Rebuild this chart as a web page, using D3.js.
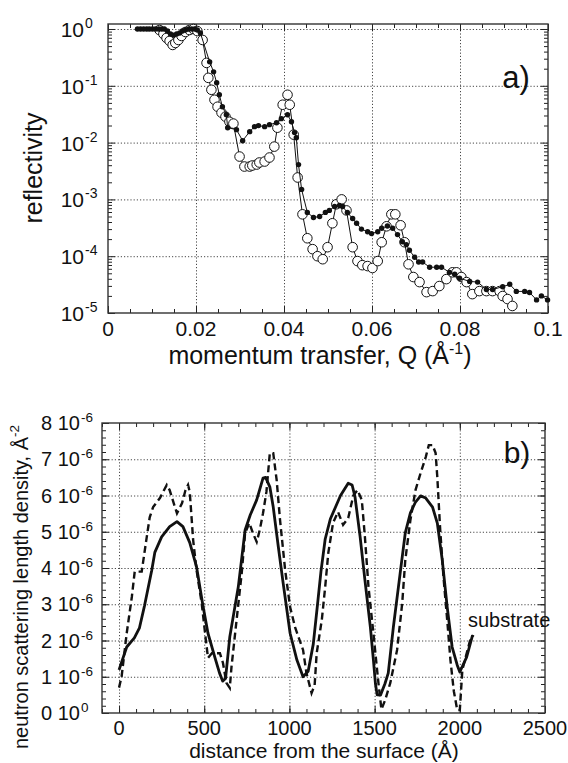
<!DOCTYPE html>
<html>
<head>
<meta charset="utf-8">
<script src="https://cdn.jsdelivr.net/npm/d3@7"></script>
<style>
  body { margin: 0; background: #fff; }
  svg { font-family: "Liberation Sans", Arial, Helvetica, sans-serif; }
  .grid line { stroke: #333; stroke-width: 0.9; stroke-dasharray: 1.2, 2; }
  .grid path { display: none; }
  .ticks path { display: none; }
  .ticks line { stroke: #222; stroke-width: 1; }
</style>
</head>
<body>
<script>
// ---- panel a) reflectivity data, filled dots and open circles ----
const qFilled = [0.0067, 0.0074, 0.0081, 0.0088, 0.0094, 0.0101, 0.0108, 0.0115, 0.0122, 0.0128,
  0.0135, 0.0142, 0.0149, 0.0156, 0.0163, 0.0169, 0.0176, 0.0183, 0.019, 0.0197, 0.0203, 0.021,
  0.0231, 0.024, 0.0247, 0.0253, 0.026, 0.0269, 0.0272, 0.0292, 0.0306, 0.0322, 0.0333, 0.0342,
  0.0356, 0.0367, 0.0383, 0.0394, 0.0408, 0.0417, 0.0424, 0.0428, 0.0433, 0.044, 0.0453, 0.0467,
  0.0481, 0.0494, 0.0503, 0.0515, 0.0526, 0.0533, 0.0544, 0.0556, 0.0565, 0.0576, 0.059, 0.0599,
  0.0613, 0.0622, 0.0635, 0.0647, 0.0658, 0.0669, 0.0678, 0.0685, 0.0697, 0.0706, 0.0715, 0.0731,
  0.0747, 0.0758, 0.0776, 0.0788, 0.0799, 0.0822, 0.084, 0.086, 0.0874, 0.0897, 0.0913, 0.0928,
  0.0947, 0.0958, 0.0974, 0.0985, 0.0999];
const rFilled = [1, 1, 1, 1, 1, 1, 1, 1, 1, 1,
  0.92, 0.82, 0.78, 0.82, 0.85, 0.92, 0.96, 1, 1, 1, 0.96, 0.85,
  0.264, 0.176, 0.113, 0.0695, 0.0428, 0.031, 0.0183, 0.0169, 0.0108, 0.0156, 0.0191, 0.0199,
  0.0191, 0.0207, 0.0224, 0.0264, 0.031, 0.0233, 0.015, 0.0122, 0.0041, 0.0015, 5.9e-4, 4.8e-4,
  5.0e-4, 5.9e-4, 6.4e-4, 7.5e-4, 7.8e-4, 7.5e-4, 5.9e-4, 4.6e-4, 3.8e-4, 3.0e-4, 2.7e-4, 2.5e-4,
  2.7e-4, 3.1e-4, 3.4e-4, 3.1e-4, 2.4e-4, 1.8e-4, 1.6e-4, 1.27e-4, 9.6e-5, 7.9e-5, 7.9e-5, 6.4e-5,
  6.4e-5, 6.4e-5, 5.2e-5, 4.8e-5, 4.1e-5, 3.6e-5, 3.5e-5, 2.6e-5, 2.6e-5, 2.9e-5, 3.2e-5, 2.4e-5,
  2.4e-5, 2.3e-5, 1.7e-5, 2.0e-5, 1.7e-5];

const qOpen = [0.0117, 0.0126, 0.0133, 0.014, 0.0147, 0.0153, 0.016, 0.0167, 0.0176, 0.0185,
  0.0194, 0.0203, 0.0215, 0.0224, 0.0228, 0.0235, 0.0242, 0.0249, 0.0258, 0.0267, 0.0276, 0.0285,
  0.0299, 0.031, 0.0322, 0.0328, 0.0338, 0.0344, 0.0356, 0.0367, 0.0378, 0.0385, 0.0397, 0.0408,
  0.0413, 0.0422, 0.0431, 0.0442, 0.0453, 0.0465, 0.0476, 0.0488, 0.0499, 0.051, 0.0519, 0.0531,
  0.0542, 0.0556, 0.0567, 0.0578, 0.059, 0.0601, 0.0613, 0.0622, 0.0633, 0.0644, 0.0653, 0.0665,
  0.0674, 0.0683, 0.0694, 0.0708, 0.0724, 0.0738, 0.0753, 0.0769, 0.0783, 0.0792, 0.0803, 0.0815,
  0.0828, 0.0844, 0.086, 0.0874, 0.089, 0.0897, 0.0908, 0.0919];
const rOpen = [0.96, 0.817, 0.695, 0.616, 0.524, 0.568, 0.641, 0.754, 0.886, 0.96,
  1, 0.92, 0.641, 0.253, 0.138, 0.0851, 0.0568, 0.0428, 0.0336, 0.0286, 0.0233, 0.0216,
  0.00568, 0.00379, 0.00379, 0.00395, 0.00411, 0.00446, 0.00464, 0.00546, 0.0085, 0.0183, 0.0464, 0.0695,
  0.0464, 0.0138, 0.00243, 5.46e-4, 2.07e-4, 1.33e-4, 1.0e-4, 8.85e-5, 1.44e-4, 3.8e-4, 8.2e-4, 1.0e-3,
  6.4e-4, 1.44e-4, 8.2e-5, 6.95e-5, 6.7e-5, 6.2e-5, 8.2e-5, 1.76e-4, 3.36e-4, 5.46e-4, 5.46e-4, 3.5e-4,
  1.76e-4, 7.2e-5, 4.3e-5, 3.5e-5, 2.33e-5, 2.43e-5, 2.98e-5, 3.95e-5, 5.2e-5, 5.2e-5, 4.3e-5, 3.5e-5,
  2.15e-5, 2.43e-5, 2.43e-5, 2.43e-5, 2.43e-5, 1.99e-5, 1.76e-5, 1.33e-5];

const qTicks = [0, 0.02, 0.04, 0.06, 0.08, 0.1];
const qTickLabels = ["0", "0.02", "0.04", "0.06", "0.08", "0.1"];
const rTicks = [1, 1e-1, 1e-2, 1e-3, 1e-4, 1e-5];
const rTickExp = ["0", "-1", "-2", "-3", "-4", "-5"];

// ---- panel b) scattering length density profiles (units of 1e-6 A^-2) ----
const depthSolid = [0, 45, 90, 120, 150, 192, 210, 250, 297, 340, 375, 415, 455, 492, 522, 562, 590,
  608, 625, 650, 700, 740, 770, 808, 845, 860, 885, 905, 935, 963, 1004, 1044, 1080, 1110, 1140,
  1165, 1185, 1210, 1240, 1300, 1345, 1368, 1385, 1415, 1443, 1475, 1493, 1505, 1515, 1535, 1560,
  1580, 1610, 1650, 1680, 1710, 1740, 1770, 1800, 1840, 1868, 1897, 1926, 1955, 1985, 2000, 2040, 2075];
const sldSolid = [1.19, 1.82, 2.07, 2.35, 2.97, 3.94, 4.43, 4.86, 5.14, 5.28, 5.14, 4.7, 4.03, 2.97, 2.2, 1.54, 1.1,
  0.88, 0.95, 2.1, 3.48, 5.05, 5.46, 5.88, 6.48, 6.5, 6.24, 5.68, 4.58, 3.59, 2.2, 1.46, 1.0, 1.15, 1.9,
  3.0, 3.9, 4.8, 5.35, 6.0, 6.34, 6.29, 5.96, 4.86, 3.67, 2.37, 1.46, 0.8, 0.5, 0.5, 0.8,
  1.1, 2.37, 3.86, 4.97, 5.52, 5.82, 5.99, 5.93, 5.68, 5.24, 4.22, 2.92, 1.82, 1.32, 1.13, 1.54, 2.15];

const depthDashed = [0, 15, 45, 75, 92, 133, 160, 180, 200, 240, 280, 297, 328, 340, 370, 390, 405, 415,
  435, 455, 485, 505, 522, 545, 592, 610, 630, 650, 660, 690, 720, 740, 765, 785, 808, 826, 845, 865,
  885, 905, 925, 945, 975, 1004, 1033, 1053, 1080, 1100, 1130, 1148, 1160, 1190, 1210, 1228, 1256,
  1285, 1315, 1345, 1375, 1400, 1425, 1443, 1464, 1493, 1510, 1523, 1540, 1562, 1592, 1632, 1662,
  1680, 1710, 1740, 1770, 1800, 1818, 1840, 1858, 1868, 1885, 1904, 1926, 1945, 1965, 1985, 2000,
  2015, 2060, 2080];
const sldDashed = [0.7, 1.0, 2.2, 3.2, 3.9, 3.9, 4.77, 5.4, 5.68, 5.93, 6.29, 6.15, 5.68, 5.51, 5.79, 6.15, 6.29, 6.1,
  4.77, 3.94, 3.03, 2.2, 1.52, 1.65, 1.65, 1.38, 0.83, 0.69, 1.27, 2.57, 3.86, 4.97, 5.24, 4.97, 4.72, 5.05, 5.51, 6.1,
  7.17, 7.17, 6.43, 5.32, 3.94, 2.92, 2.37, 2.1, 1.74, 1.1, 0.55, 0.77, 1.65, 2.57, 3.48, 4.41, 5.24,
  5.55, 5.19, 5.38, 6.0, 6.15, 5.87, 4.86, 3.48, 2.2, 1.4, 0.8, 0.1, 0.36, 0.83, 1.74, 3.03,
  4.22, 5.32, 6.15, 6.62, 7.06, 7.39, 7.39, 7.17, 6.5, 5.05, 3.76, 2.57, 1.46, 0.6, 0.08, 0.08,
  1.19, 2.0, 2.15];

const dTicks = [0, 500, 1000, 1500, 2000, 2500];
const sldTicks = [0, 1, 2, 3, 4, 5, 6, 7, 8];
const sldTickMant = ["0", "1", "2", "3", "4", "5", "6", "7", "8"];
const sldTickExp = ["0", "-6", "-6", "-6", "-6", "-6", "-6", "-6", "-6"];

const W = 568, H = 763;
const ink = "#111";
const svg = d3.select("body").append("svg").attr("width", W).attr("height", H);

// ================= panel a =================
const xA = d3.scaleLinear().domain([0, 0.1]).range([108, 548]);
const yA = d3.scaleLog().domain([1e-5, Math.pow(10, 0.088)]).range([313, 24]);
const panelA = svg.append("g");

panelA.append("g").attr("class", "grid")
  .attr("transform", "translate(0,313)")
  .call(d3.axisBottom(xA).tickValues(qTicks.slice(1, -1)).tickFormat("").tickSize(-(313 - 24)));
panelA.append("g").attr("class", "grid")
  .attr("transform", "translate(108,0)")
  .call(d3.axisLeft(yA).tickValues(rTicks.slice(0, -1)).tickFormat("").tickSize(-(548 - 108)));

// ticks inward on all four sides
const qMinor = d3.range(0, 0.1001, 0.005);
const rMinor = [];
for (let e = -5; e < 0; e++) for (let m = 2; m <= 9; m++) rMinor.push(m * Math.pow(10, e));
[[313, d3.axisBottom], [24, d3.axisTop]].forEach(([y, ax]) => {
  panelA.append("g").attr("class", "ticks").attr("transform", `translate(0,${y})`)
    .call(ax(xA).tickValues(qMinor).tickFormat("").tickSize(-4).tickSizeOuter(0));
  panelA.append("g").attr("class", "ticks").attr("transform", `translate(0,${y})`)
    .call(ax(xA).tickValues(qTicks).tickFormat("").tickSize(-7).tickSizeOuter(0));
});
[[108, d3.axisLeft], [548, d3.axisRight]].forEach(([x, ax]) => {
  panelA.append("g").attr("class", "ticks").attr("transform", `translate(${x},0)`)
    .call(ax(yA).tickValues(rMinor).tickFormat("").tickSize(-4).tickSizeOuter(0));
  panelA.append("g").attr("class", "ticks").attr("transform", `translate(${x},0)`)
    .call(ax(yA).tickValues(rTicks).tickFormat("").tickSize(-7).tickSizeOuter(0));
});

panelA.append("rect").attr("x", 108).attr("y", 24).attr("width", 440).attr("height", 289)
  .attr("fill", "none").attr("stroke", "#333").attr("stroke-width", 1.4);

const openPts = qOpen.map((q, i) => ({ q: q, r: rOpen[i] }));
const filledPts = qFilled.map((q, i) => ({ q: q, r: rFilled[i] }));
const lineA = d3.line().x((d) => xA(d.q)).y((d) => yA(d.r));

panelA.append("path").attr("d", lineA(openPts))
  .attr("fill", "none").attr("stroke", ink).attr("stroke-width", 1);
panelA.selectAll("circle.open").data(openPts).join("circle")
  .attr("class", "open")
  .attr("cx", (d) => xA(d.q)).attr("cy", (d) => yA(d.r)).attr("r", 4.8)
  .attr("fill", "#fff").attr("stroke", ink).attr("stroke-width", 1);
panelA.append("path").attr("d", lineA(filledPts))
  .attr("fill", "none").attr("stroke", ink).attr("stroke-width", 1);
panelA.selectAll("circle.filled").data(filledPts).join("circle")
  .attr("class", "filled")
  .attr("cx", (d) => xA(d.q)).attr("cy", (d) => yA(d.r)).attr("r", 2.7)
  .attr("fill", ink);

// tick labels
qTicks.forEach((q, i) => {
  panelA.append("text").attr("x", xA(q)).attr("y", 336)
    .attr("text-anchor", "middle").attr("font-size", 21).attr("fill", ink)
    .text(qTickLabels[i]);
});
rTicks.forEach((r, i) => {
  panelA.append("text").attr("x", 84).attr("y", yA(r) + 8)
    .attr("text-anchor", "end").attr("font-size", 21).attr("fill", ink).text("10");
  panelA.append("text").attr("x", 85).attr("y", yA(r) - 1)
    .attr("font-size", 14).attr("fill", ink).text(rTickExp[i]);
});

panelA.append("text")
  .attr("transform", "translate(42,168) rotate(-90)")
  .attr("text-anchor", "middle").attr("font-size", 25).attr("fill", ink)
  .text("reflectivity");

const xTitleA = panelA.append("text").attr("x", 320).attr("y", 364)
  .attr("text-anchor", "middle").attr("font-size", 25).attr("fill", ink);
xTitleA.append("tspan").text("momentum transfer, Q (Å");
xTitleA.append("tspan").attr("dy", -10).attr("font-size", 16).text("-1");
xTitleA.append("tspan").attr("dy", 10).text(")");

panelA.append("text").attr("x", 516).attr("y", 88)
  .attr("text-anchor", "middle").attr("font-size", 31).attr("fill", ink).text("a)");

// ================= panel b =================
const xB = d3.scaleLinear().domain([-100, 2500]).range([102, 545]);
const yB = d3.scaleLinear().domain([0, 8]).range([713, 423]);
const panelB = svg.append("g");

panelB.append("g").attr("class", "grid")
  .attr("transform", "translate(0,713)")
  .call(d3.axisBottom(xB).tickValues(dTicks.slice(0, -1)).tickFormat("").tickSize(-(713 - 423)));
panelB.append("g").attr("class", "grid")
  .attr("transform", "translate(102,0)")
  .call(d3.axisLeft(yB).tickValues(sldTicks.slice(1, -1)).tickFormat("").tickSize(-(545 - 102)));

const dMinor = d3.range(-100, 2501, 100);
const sldMinor = d3.range(0, 8.001, 0.2);
[[713, d3.axisBottom], [423, d3.axisTop]].forEach(([y, ax]) => {
  panelB.append("g").attr("class", "ticks").attr("transform", `translate(0,${y})`)
    .call(ax(xB).tickValues(dMinor).tickFormat("").tickSize(-4).tickSizeOuter(0));
  panelB.append("g").attr("class", "ticks").attr("transform", `translate(0,${y})`)
    .call(ax(xB).tickValues(dTicks).tickFormat("").tickSize(-7).tickSizeOuter(0));
});
[[102, d3.axisLeft], [545, d3.axisRight]].forEach(([x, ax]) => {
  panelB.append("g").attr("class", "ticks").attr("transform", `translate(${x},0)`)
    .call(ax(yB).tickValues(sldMinor).tickFormat("").tickSize(-4).tickSizeOuter(0));
  panelB.append("g").attr("class", "ticks").attr("transform", `translate(${x},0)`)
    .call(ax(yB).tickValues(sldTicks).tickFormat("").tickSize(-7).tickSizeOuter(0));
});

panelB.append("rect").attr("x", 102).attr("y", 423).attr("width", 443).attr("height", 290)
  .attr("fill", "none").attr("stroke", "#333").attr("stroke-width", 1.4);

const lineB = d3.line().x((d) => xB(d[0])).y((d) => yB(d[1]));
panelB.append("path")
  .attr("d", lineB(depthDashed.map((d, i) => [d, sldDashed[i]])))
  .attr("fill", "none").attr("stroke", ink).attr("stroke-width", 2.4)
  .attr("stroke-dasharray", "7,4");
panelB.append("path")
  .attr("d", lineB(depthSolid.map((d, i) => [d, sldSolid[i]])))
  .attr("fill", "none").attr("stroke", ink).attr("stroke-width", 2.8)
  .attr("stroke-linejoin", "round");

dTicks.forEach((d) => {
  panelB.append("text").attr("x", xB(d)).attr("y", 735)
    .attr("text-anchor", "middle").attr("font-size", 20).attr("fill", ink).text(d);
});
sldTicks.forEach((v, i) => {
  panelB.append("text").attr("x", 80).attr("y", yB(v) + 7)
    .attr("text-anchor", "end").attr("font-size", 20).attr("fill", ink)
    .text(sldTickMant[i] + " 10");
  panelB.append("text").attr("x", 81).attr("y", yB(v) - 1)
    .attr("font-size", 13.5).attr("fill", ink).text(sldTickExp[i]);
});

const yTitleB = panelB.append("text")
  .attr("transform", "translate(28,587) rotate(-90)")
  .attr("text-anchor", "middle").attr("font-size", 20).attr("fill", ink);
yTitleB.append("tspan").text("neutron scattering length density, Å");
yTitleB.append("tspan").attr("dy", -9).attr("font-size", 13.5).text("-2");

panelB.append("text").attr("x", 324).attr("y", 758)
  .attr("text-anchor", "middle").attr("font-size", 21).attr("fill", ink)
  .text("distance from the surface (Å)");

panelB.append("text").attr("x", 517).attr("y", 463)
  .attr("text-anchor", "middle").attr("font-size", 30).attr("fill", ink).text("b)");

panelB.append("text").attr("x", 468).attr("y", 627)
  .attr("font-size", 20).attr("fill", ink).text("substrate");
</script>
</body>
</html>
